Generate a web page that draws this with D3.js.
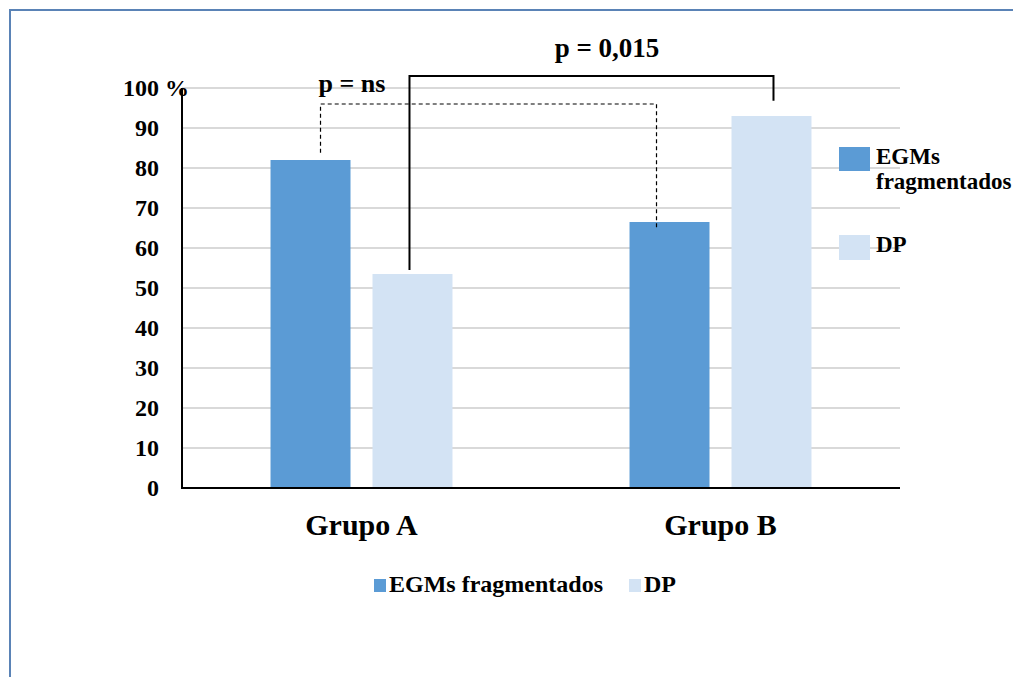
<!DOCTYPE html>
<html>
<head>
<meta charset="utf-8">
<script src="https://cdn.jsdelivr.net/npm/d3@7"></script>
</head>
<body style="margin:0">
<script>
(function () {

  /* ── Data ── */
  var categories = ['Grupo A', 'Grupo B'];
  var seriesNames = ['EGMs fragmentados', 'DP'];
  var egms = [82, 66.5];
  var dp = [53.5, 93];
  var yTicks = [0, 10, 20, 30, 40, 50, 60, 70, 80, 90, 100];
  var colors = ['#5b9bd5', '#d3e3f4'];

  var W = 1013, H = 677;
  var left = 182, right = 900, top = 88, bottom = 488;

  var svg = d3.select('body').append('svg')
    .attr('width', W).attr('height', H)
    .style('display', 'block');

  /* every text gets its font set directly */
  function label(sel, size) {
    return sel.attr('font-family', 'Liberation Serif')
      .attr('font-weight', 'bold')
      .attr('font-size', size)
      .attr('fill', '#000');
  }

  /* Frame (runs off the right and bottom edge) */
  svg.append('rect')
    .attr('x', 10).attr('y', 10)
    .attr('width', 1100).attr('height', 800)
    .attr('fill', 'none')
    .attr('stroke', '#5a83b6')
    .attr('stroke-width', 2);

  /* Scales */
  var y = d3.scaleLinear().domain([0, 100]).range([bottom, top]);
  var x0 = d3.scaleBand().domain(categories).range([left, right]);
  var x1 = d3.scaleBand().domain(seriesNames)
    .range([0, x0.bandwidth()])
    .paddingInner(0.2157)
    .paddingOuter(0.868);

  /* Gridlines */
  svg.append('g')
    .selectAll('line')
    .data(yTicks.filter(function (d) { return d > 0; }))
    .join('line')
    .attr('x1', left).attr('x2', right)
    .attr('y1', function (d) { return y(d); })
    .attr('y2', function (d) { return y(d); })
    .attr('stroke', '#d9d9d9')
    .attr('stroke-width', 2);

  /* Bars */
  var rows = categories.map(function (c, i) {
    return { cat: c, vals: [egms[i], dp[i]] };
  });

  var groups = svg.append('g')
    .selectAll('g')
    .data(rows)
    .join('g')
    .attr('transform', function (d) { return 'translate(' + x0(d.cat) + ',0)'; });

  groups.selectAll('rect')
    .data(function (d) {
      return d.vals.map(function (v, j) { return { name: seriesNames[j], v: v, j: j }; });
    })
    .join('rect')
    .attr('x', function (d) { return x1(d.name); })
    .attr('width', x1.bandwidth())
    .attr('y', function (d) { return y(d.v); })
    .attr('height', function (d) { return bottom - y(d.v); })
    .attr('fill', function (d) { return colors[d.j]; });

  /* Y axis */
  var yAxis = svg.append('g')
    .attr('transform', 'translate(' + left + ',0)')
    .call(d3.axisLeft(y).tickValues(yTicks).tickSize(0).tickPadding(23)
      .tickFormat(function (d) { return d; }))
    .attr('font-family', 'Liberation Serif');
  yAxis.select('.domain').remove();
  label(yAxis.selectAll('text'), 24);

  /* "%" after the 100 label */
  label(svg.append('text'), 24)
    .attr('x', left - 17).attr('y', y(100) + 8)
    .text('%');

  /* Axis lines */
  svg.append('line')
    .attr('x1', left).attr('x2', left)
    .attr('y1', y(100)).attr('y2', bottom + 1)
    .attr('stroke', '#000').attr('stroke-width', 2);
  svg.append('line')
    .attr('x1', left - 1).attr('x2', right)
    .attr('y1', bottom).attr('y2', bottom)
    .attr('stroke', '#000').attr('stroke-width', 2);

  /* Category labels */
  label(svg.append('g')
    .selectAll('text')
    .data(categories)
    .join('text'), 30)
    .attr('x', function (d) { return x0(d) + x0.bandwidth() / 2; })
    .attr('y', 535)
    .attr('text-anchor', 'middle')
    .text(function (d) { return d; });

  /* Significance brackets */
  function cx(cat, s) { return x0(cat) + x1(s) + x1.bandwidth() / 2; }

  var nsL = cx('Grupo A', 'EGMs fragmentados') + 10;
  var nsR = cx('Grupo B', 'EGMs fragmentados') - 13;
  svg.append('path')
    .attr('d', 'M' + nsL + ',' + y(egms[0] + 1.8) +
      ' V' + y(96) + ' H' + nsR + ' V' + y(egms[1] - 1.5))
    .attr('fill', 'none')
    .attr('stroke', '#000')
    .attr('stroke-width', 1.2)
    .attr('stroke-dasharray', '4 3');

  var sL = cx('Grupo A', 'DP') - 3;
  var sR = cx('Grupo B', 'DP') + 2;
  svg.append('path')
    .attr('d', 'M' + sL + ',' + y(dp[0] + 1) +
      ' V' + y(103) + ' H' + sR + ' V' + y(96.8))
    .attr('fill', 'none')
    .attr('stroke', '#000')
    .attr('stroke-width', 2);

  label(svg.append('text'), 26)
    .attr('x', 352).attr('y', 92)
    .attr('text-anchor', 'middle')
    .text('p = ns');
  label(svg.append('text'), 27)
    .attr('x', 607).attr('y', 57)
    .attr('text-anchor', 'middle')
    .text('p = 0,015');

  /* Right-hand legend */
  svg.append('rect').attr('x', 839).attr('y', 147).attr('width', 31).attr('height', 24).attr('fill', colors[0]);
  label(svg.append('text'), 23).attr('x', 876).attr('y', 164).text('EGMs');
  label(svg.append('text'), 23).attr('x', 876).attr('y', 189).text('fragmentados');
  svg.append('rect').attr('x', 839).attr('y', 235).attr('width', 31).attr('height', 25).attr('fill', colors[1]);
  label(svg.append('text'), 23).attr('x', 876).attr('y', 252).text('DP');

  /* Bottom legend */
  var lx = [374, 629];
  seriesNames.forEach(function (s, i) {
    svg.append('rect').attr('x', lx[i]).attr('y', 579).attr('width', 12).attr('height', 13).attr('fill', colors[i]);
    label(svg.append('text'), 24).attr('x', lx[i] + 15).attr('y', 592).text(s);
  });
})();
</script>
</body>
</html>
